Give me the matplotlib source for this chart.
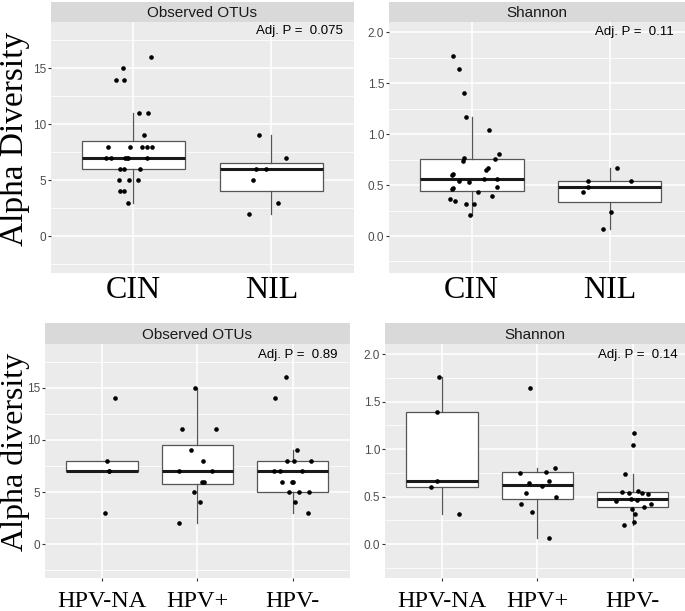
import numpy as np
import matplotlib as mpl
mpl.use('Agg')
import matplotlib.pyplot as plt

# 数据：从图中读取
grp_top = ['CIN', 'NIL']
grp_bot = ['HPV-NA', 'HPV+', 'HPV-']

cin_otu = [16, 15, 14, 14, 11, 11, 9, 8, 8, 8, 8, 8, 7, 7, 7, 7, 7, 7, 6, 6, 6, 5, 5, 5, 4, 4, 3]
cin_otu_dx = [0.126, -0.078, -0.126, -0.070, 0.039, 0.104, 0.075, -0.186, -0.027, 0.065, 0.099, 0.138,
              -0.198, -0.162, -0.058, -0.036, 0.099, -0.048, -0.094, -0.065, 0.051, -0.102, -0.029, 0.034,
              -0.094, -0.065, -0.036]
nil_otu = [9, 7, 6, 6, 5, 3, 2]
nil_otu_dx = [-0.092, 0.104, -0.109, -0.041, -0.134, 0.048, -0.165]

cin_sh = [1.765, 1.640, 1.402, 1.173, 1.045, 0.804, 0.758, 0.765, 0.741, 0.670, 0.647, 0.608, 0.598,
          0.556, 0.558, 0.542, 0.529, 0.474, 0.461, 0.477, 0.431, 0.395, 0.363, 0.340, 0.317, 0.317, 0.202]
cin_sh_dx = [-0.133, -0.094, -0.056, -0.041, 0.125, 0.199, 0.168, -0.058, -0.061, 0.120, 0.101, -0.135,
             -0.140, 0.087, 0.182, -0.094, -0.022, -0.135, -0.142, 0.180, 0.043, 0.146, -0.156, -0.118,
             -0.039, 0.014, -0.012]
nil_sh = [0.670, 0.542, 0.542, 0.486, 0.428, 0.235, 0.065]
nil_sh_dx = [0.050, -0.156, 0.156, -0.159, -0.195, 0.007, -0.048]

na_otu = [14, 8, 7, 7, 3]
na_otu_dx = [0.133, 0.048, 0.074, 0.070, 0.032]
pos_otu = [15, 11, 11, 9, 8, 7, 7, 6, 6, 5, 4, 2]
pos_otu_dx = [-0.024, -0.158, 0.193, -0.066, 0.063, -0.197, 0.151, 0.049, 0.071, -0.035, 0.024, -0.189]
neg_otu = [16, 14, 9, 8, 8, 8, 7, 7, 7, 6, 6, 6, 5, 5, 5, 4, 3]
neg_otu_dx = [-0.071, -0.184, 0.045, -0.063, 0.011, 0.197, -0.197, -0.137, 0.095, -0.116, -0.004, 0.004,
              -0.042, 0.063, 0.171, 0.021, 0.161]

na_sh = [1.763, 1.397, 0.665, 0.602, 0.317]
na_sh_dx = [-0.032, -0.053, -0.053, -0.120, 0.172]
pos_sh = [1.640, 0.799, 0.753, 0.760, 0.641, 0.669, 0.609, 0.542, 0.493, 0.426, 0.341, 0.060]
pos_sh_dx = [-0.077, 0.189, -0.186, 0.087, -0.084, 0.126, 0.049, -0.119, 0.197, -0.172, -0.060, 0.119]
neg_sh = [1.172, 1.045, 0.736, 0.553, 0.539, 0.560, 0.542, 0.531, 0.457, 0.478, 0.468, 0.422, 0.394,
          0.366, 0.317, 0.229, 0.197]
neg_sh_dx = [0.017, 0.006, -0.078, -0.116, -0.042, 0.056, 0.101, 0.158, -0.175, -0.015, 0.045, 0.189,
             0.119, -0.004, 0.021, 0.011, -0.088]

p_text = ['Adj. P =  0.075', 'Adj. P =  0.11', 'Adj. P =  0.89', 'Adj. P =  0.14']

W, H = 685, 611
fig = plt.figure(figsize=(W / 100, H / 100), dpi=100, facecolor='white')


def px_axes(x0, y0, x1, y1):
    return fig.add_axes([x0 / W, 1 - y1 / H, (x1 - x0) / W, (y1 - y0) / H])


def panel(box, strip_y0, title, groups, vals, dxs, ylim, major, minor, ptxt, pxy, xfs, xpad, xlen):
    x0, y0, x1, y1 = box
    ax = px_axes(x0, y0, x1, y1)
    ax.set_facecolor('#EBEBEB')
    for s in ax.spines.values():
        s.set_visible(False)
    n = len(groups)
    pos = np.arange(1, n + 1)
    ax.boxplot(vals, positions=pos, widths=0.75, patch_artist=True, showfliers=False,
               showcaps=False, whis=1.5,
               boxprops=dict(facecolor='white', edgecolor='#555555', linewidth=0.9),
               medianprops=dict(color='#1A1A1A', linewidth=2.2),
               whiskerprops=dict(color='#555555', linewidth=0.9), zorder=2)
    for i in range(n):
        ax.scatter(pos[i] + np.array(dxs[i]), vals[i], s=11, color='black', zorder=3, linewidths=0)
    ax.set_xlim(0.4, n + 0.6)
    ax.set_ylim(*ylim)
    ax.set_yticks(major)
    ax.set_yticks(minor, minor=True)
    ax.set_xticks(pos)
    ax.set_xticklabels(groups, fontsize=xfs, family='Liberation Serif', color='black')
    ax.tick_params(axis='x', length=xlen, color='#333333', pad=xpad)
    ax.tick_params(axis='y', which='major', length=2.5, color='#333333', pad=1,
                   labelsize=8.5, labelcolor='#4D4D4D')
    ax.tick_params(axis='y', which='minor', length=0)
    for t in ax.get_yticklabels():
        t.set_family('Liberation Sans')
    ax.grid(True, which='major', color='white', linewidth=1.1)
    ax.grid(True, which='minor', axis='y', color='white', linewidth=0.55)
    ax.set_axisbelow(True)
    ax.text(pxy[0], pxy[1], ptxt, ha='right', va='center', fontsize=9.5,
            family='Liberation Sans', color='black')

    st = px_axes(x0, strip_y0, x1, y0)
    st.set_facecolor('#D9D9D9')
    st.set_xticks([])
    st.set_yticks([])
    for s in st.spines.values():
        s.set_visible(False)
    # 标题居中于可见部分
    xc = (x0 + min(x1, W)) / 2
    st.text((xc - x0) / (x1 - x0), 0.45, title, transform=st.transAxes, ha='center', va='center',
            fontsize=11, family='Liberation Sans', color='#1A1A1A')
    return ax


otu_major = [0, 5, 10, 15]
otu_minor = [-2.5, 2.5, 7.5, 12.5, 17.5]
sh_major = [0.0, 0.5, 1.0, 1.5, 2.0]
sh_minor = [-0.25, 0.25, 0.75, 1.25, 1.75]
otu_lim = (-3.27, 19.17)
sh_lim = (-0.36, 2.105)

ax1 = panel((50.7, 21.7, 354, 272.7), 1.7, 'Observed OTUs', grp_top, [cin_otu, nil_otu],
            [cin_otu_dx, nil_otu_dx], otu_lim, otu_major, otu_minor, p_text[0], (2.518, 18.33), 23, 2.5, 0)
ax2 = panel((389, 21.7, 692.5, 272.7), 1.7, 'Shannon', grp_top, [cin_sh, nil_sh],
            [cin_sh_dx, nil_sh_dx], sh_lim, sh_major, sh_minor, p_text[1], (2.466, 2.0), 23, 2.5, 0)
ax3 = panel((45, 344.3, 349.7, 578.3), 323.3, 'Observed OTUs', grp_bot, [na_otu, pos_otu, neg_otu],
            [na_otu_dx, pos_otu_dx, neg_otu_dx], otu_lim, otu_major, otu_minor, p_text[2], (3.477, 18.17),
            17.5, 7, 2)
ax4 = panel((385, 344.3, 689.7, 578.3), 323.3, 'Shannon', grp_bot, [na_sh, pos_sh, neg_sh],
            [na_sh_dx, pos_sh_dx, neg_sh_dx], sh_lim, sh_major, sh_minor, p_text[3], (3.477, 1.996),
            17.5, 7, 2)

ax1.yaxis.set_major_formatter(mpl.ticker.FormatStrFormatter('%d'))
ax3.yaxis.set_major_formatter(mpl.ticker.FormatStrFormatter('%d'))
ax2.yaxis.set_major_formatter(mpl.ticker.FormatStrFormatter('%.1f'))
ax4.yaxis.set_major_formatter(mpl.ticker.FormatStrFormatter('%.1f'))

fig.text(15 / W, 1 - 139 / H, 'Alpha Diversity', rotation=90, ha='center', va='center',
         fontsize=24, family='Liberation Serif')
fig.text(15 / W, 1 - 452 / H, 'Alpha diversity', rotation=90, ha='center', va='center',
         fontsize=23, family='Liberation Serif')

plt.savefig('out.png', dpi=100, facecolor='white')
